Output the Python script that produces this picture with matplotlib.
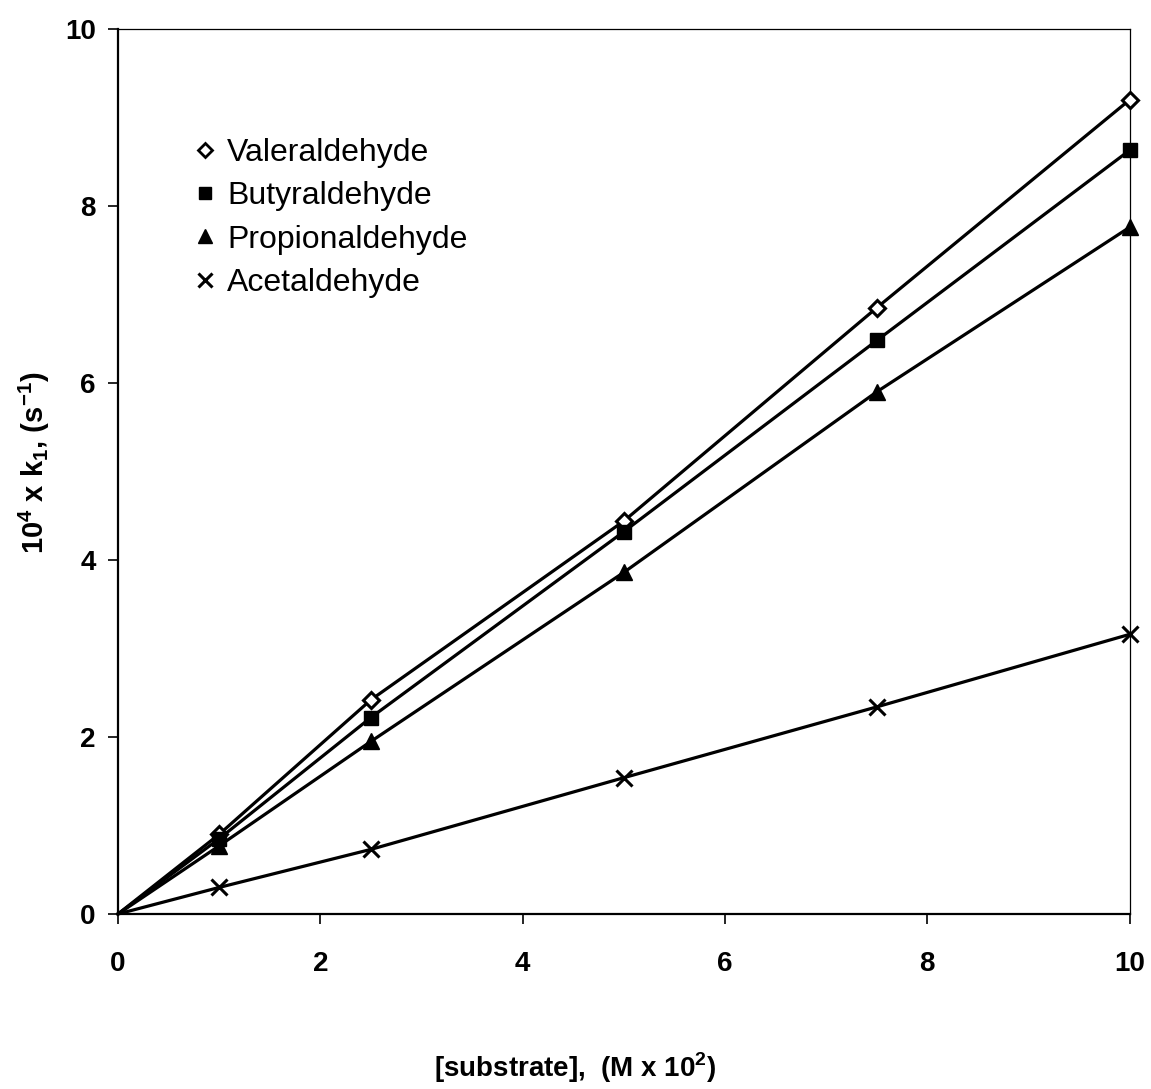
import matplotlib
matplotlib.use("Agg")
import matplotlib.pyplot as plt
from matplotlib.lines import Line2D

plt.rcParams['font.family'] = ['Liberation Sans', 'DejaVu Sans']
plt.rcParams['mathtext.fontset'] = 'custom'
plt.rcParams['mathtext.rm'] = 'Liberation Sans'
plt.rcParams['mathtext.bf'] = 'Liberation Sans:bold'

# substrate concentration (M x 10^2)
conc = [0, 1, 2.5, 5, 7.5, 10]

# first-order rate constants, 10^4 x k1 (s^-1)
valeraldehyde = [0, 0.90, 2.42, 4.44, 6.85, 9.20]
butyraldehyde = [0, 0.85, 2.22, 4.32, 6.48, 8.63]
propionaldehyde = [0, 0.77, 1.95, 3.86, 5.90, 7.76]
acetaldehyde = [0, 0.30, 0.73, 1.54, 2.34, 3.16]

names = ["Valeraldehyde", "Butyraldehyde", "Propionaldehyde", "Acetaldehyde"]
series = [valeraldehyde, butyraldehyde, propionaldehyde, acetaldehyde]
markers = [dict(marker='D', ms=8, mfc='white', mec='black', mew=2.2),
           dict(marker='s', ms=10, mfc='black', mec='black'),
           dict(marker='^', ms=11, mfc='black', mec='black'),
           dict(marker='x', ms=12, mec='black', mew=2.2)]

fig = plt.figure(figsize=(11.51, 10.89), dpi=100)
ax = fig.add_axes([0.1025, 0.1607, 0.879, 0.8127])

# lines start at the origin, but no marker is drawn there
for y, m in zip(series, markers):
    ax.plot(conc, y, color='black', lw=2.3, markevery=slice(1, None), **m,
            zorder=3, clip_on=False)

ax.set_xlim(0, 10)
ax.set_ylim(0, 10)
ax.set_xticks([0, 2, 4, 6, 8, 10])
ax.set_yticks([0, 2, 4, 6, 8, 10])
ax.tick_params(direction='out', length=7, width=1.2, labelsize=20)
ax.tick_params(axis='x', pad=20)
ax.tick_params(axis='y', pad=9)
for lab in ax.get_xticklabels() + ax.get_yticklabels():
    lab.set_fontweight('bold')
for s in ['left', 'bottom']:
    ax.spines[s].set_linewidth(1.6)
for s in ['top', 'right']:
    ax.spines[s].set_linewidth(0.9)

fig.text(0.5, 0.0193, r'[substrate],  (M x 10$^\mathbf{2}$)', fontsize=20,
         fontweight='bold', ha='center', va='center')
fig.text(0.030, 0.575, r'10$^\mathbf{4}$ x k$_\mathbf{1}$, (s$^\mathbf{-1}$)',
         fontsize=21, fontweight='bold', rotation=90, ha='center', va='center')

handles = [Line2D([], [], color='black', ls='none', **m) for m in markers]
handles[0].set_markersize(7)
handles[0].set_markeredgewidth(2)
handles[1].set_markersize(9)
handles[2].set_markersize(10)
handles[3].set_markersize(10)
ax.legend(handles, names, loc='upper left', bbox_to_anchor=(0.078, 0.877),
          frameon=False, fontsize=23, handlelength=0.5, handletextpad=0.45,
          labelspacing=0.42, borderaxespad=0, borderpad=0)

fig.savefig("out.png", dpi=100)
